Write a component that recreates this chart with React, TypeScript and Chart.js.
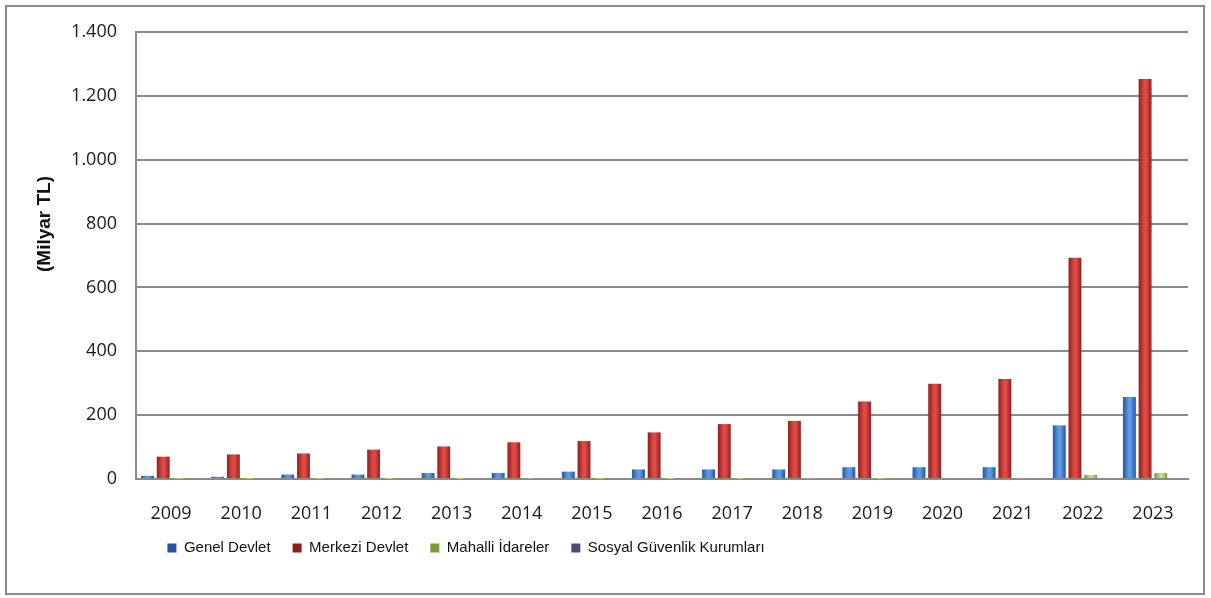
import React, { useEffect, useRef } from "react";
import { Chart, registerables } from "chart.js";

Chart.register(...registerables);

const categories = ["2009", "2010", "2011", "2012", "2013", "2014", "2015", "2016", "2017", "2018", "2019", "2020", "2021", "2022", "2023"];
const genelDevlet = [10, 7, 14, 14, 19, 19, 23, 30, 30, 30, 37, 37, 37, 168, 257];
const merkeziDevlet = [70, 77, 80, 92, 102, 115, 119, 146, 172, 182, 243, 298, 313, 693, 1253];
const mahalliIdareler = [0.5, 0.5, 0.5, 0.5, 0.5, 1.5, 0.5, 0.5, 0.5, 1.5, 0.5, 3, 2, 13, 19];
const sosyalGuvenlik = [0, 0, 0, 0, 0, 0, 0, 0, 0, 0, 0, 0, 0, 0, 0];
const seriesNames = ["Genel Devlet", "Merkezi Devlet", "Mahalli İdareler", "Sosyal Güvenlik Kurumları"];
const yMin = 0;
const yMax = 1400;
const yStep = 200;
const yTitle = "(Milyar TL)";

const W = 1211;
const H = 598;
const CAT_PCT = 0.895;
const BAR_PCT = 0.82;
const PLOT_BOTTOM = 479;
const LEGEND_CENTER_X = 466;
const LEGEND_CENTER_Y = 548;
const TITLE_X = 45;
const TITLE_Y = 224;

function barFill(base: string, edge: string, light: string) {
  return (ctx: any) => {
    if (ctx.type !== "data") return base;
    const chart = ctx.chart;
    const x = chart.scales && chart.scales.x;
    if (!x || !isFinite(x.left) || x.right <= x.left) return base;
    const n = chart.data.labels.length;
    const catW = (x.right - x.left) / n;
    const group = catW * CAT_PCT;
    const slot = group / chart.data.datasets.length;
    const cx = x.getPixelForValue(ctx.dataIndex);
    const left = cx - group / 2 + ctx.datasetIndex * slot;
    const inset = (slot - slot * BAR_PCT) / 2;
    const g = chart.ctx.createLinearGradient(left + inset, 0, left + slot - inset, 0);
    g.addColorStop(0, edge);
    g.addColorStop(0.45, light);
    g.addColorStop(0.6, light);
    g.addColorStop(1, edge);
    return g;
  };
}

function fmt(v: number) {
  return String(v).replace(/\B(?=(\d{3})+(?!\d))/g, ".");
}

const legendShift = {
  id: "legendShift",
  afterLayout(chart: any) {
    const l = chart.legend;
    if (!l || !l.lineWidths) return;
    const pad = l.options.labels.padding;
    const fs = l.options.labels.font.size || 16;
    const h = l.bottom - l.top;
    const total = l.lineWidths[0] - pad;
    l.left = LEGEND_CENTER_X - total / 2 - pad;
    l.right = W;
    l.top = LEGEND_CENTER_Y - pad - fs / 2;
    l.bottom = l.top + h;
  },
};

const yTitlePlugin = {
  id: "yTitlePlugin",
  afterDraw(chart: any) {
    const ctx = chart.ctx;
    ctx.save();
    ctx.translate(TITLE_X, TITLE_Y);
    ctx.rotate(-Math.PI / 2);
    ctx.textAlign = "center";
    ctx.textBaseline = "middle";
    ctx.fillStyle = "#111";
    ctx.font = "bold 19px 'Liberation Sans', Arial, sans-serif";
    ctx.fillText(yTitle, 0, 0);
    ctx.restore();
  },
};

export default function App() {
  const ref = useRef<HTMLCanvasElement>(null);
  useEffect(() => {
    if (!ref.current) return;
    const chart = new Chart(ref.current, {
      type: "bar",
      data: {
        labels: categories,
        datasets: [
          { label: seriesNames[0], data: genelDevlet, backgroundColor: barFill("#3a7bd0", "#2257a0", "#5c9be2") },
          { label: seriesNames[1], data: merkeziDevlet, backgroundColor: barFill("#c4302c", "#921d1d", "#de4b45") },
          { label: seriesNames[2], data: mahalliIdareler, backgroundColor: barFill("#9bbb59", "#7a9a3c", "#c2de88") },
          { label: seriesNames[3], data: sosyalGuvenlik, backgroundColor: barFill("#8064a2", "#5a437a", "#a08cc0") },
        ],
      },
      options: {
        animation: false,
        responsive: false,
        maintainAspectRatio: false,
        datasets: { bar: { categoryPercentage: CAT_PCT, barPercentage: BAR_PCT, borderWidth: 0 } },
        layout: { padding: { top: 32, right: 23, left: 0, bottom: 0 } },
        scales: {
          x: {
            grid: { display: false, drawTicks: false },
            border: { display: true, color: "#8a8a8a", width: 2 },
            ticks: { padding: 24, color: "#1a1a1a", font: { family: "'Open Sans', sans-serif", size: 18 }, maxRotation: 0 },
            afterFit: (s: any) => {
              const lh = s.chart.legend ? s.chart.legend.height : 0;
              s.height = Math.max(10, H - PLOT_BOTTOM - lh);
            },
          },
          y: {
            min: yMin,
            max: yMax,
            grid: { color: "#8a8a8a", lineWidth: 2, drawTicks: false },
            border: { display: true, color: "#8a8a8a", width: 2 },
            ticks: {
              stepSize: yStep,
              padding: 19,
              color: "#1a1a1a",
              font: { family: "'Open Sans', sans-serif", size: 18 },
              callback: (v: any) => fmt(Number(v)),
            },
            title: { display: false },
            afterFit: (s: any) => {
              s.width = 136;
            },
          },
        },
        plugins: {
          legend: {
            position: "bottom",
            align: "start",
            labels: {
              boxWidth: 9,
              boxHeight: 9,
              padding: 22,
              color: "#111",
              font: { family: "'Liberation Sans', sans-serif", size: 15 },
            },
          },
          tooltip: { enabled: false },
        },
      },
      plugins: [legendShift, yTitlePlugin],
    } as any);
    return () => chart.destroy();
  }, []);

  return (
    <div style={{ position: "fixed", left: 0, top: 0, width: W, height: H, background: "#fff" }}>
      <div
        style={{
          position: "absolute",
          left: 5,
          top: 5,
          width: 1200,
          height: 590,
          border: "2px solid #8a8a8a",
          boxSizing: "border-box",
        }}
      />
      <canvas ref={ref} width={W} height={H} style={{ position: "absolute", left: 0, top: 0 }} />
    </div>
  );
}
